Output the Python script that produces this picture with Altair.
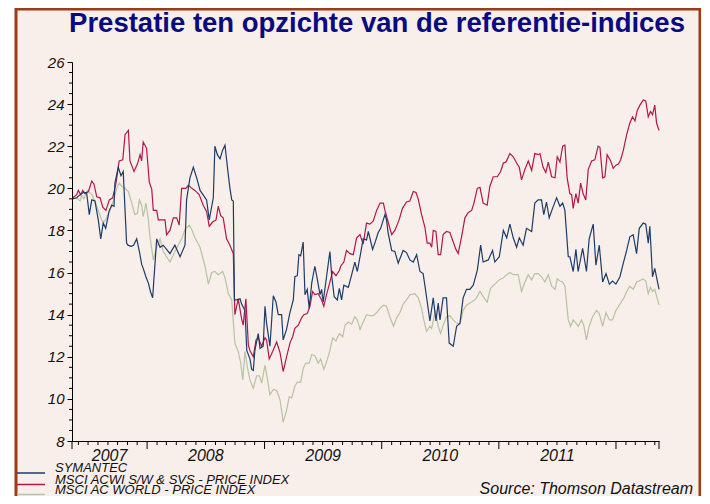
import altair as alt
import pandas as pd

# ---------------- data ----------------
START = pd.Timestamp("2007-05-12")
END = pd.Timestamp("2012-05-14")

series_names = ["SYMANTEC", "MSCI ACWI S/W & SVS - PRICE INDEX", "MSCI AC WORLD - PRICE INDEX"]
series_colors = ["#1B3C68", "#B2174B", "#B5C3A2"]

# week offsets from START, and values
sym_w = [0.3, 2.1, 3.6, 5.0, 6.5, 7.7, 8.8, 10.2, 11.7, 12.8, 13.9, 15.0, 16.5, 17.7, 18.7, 19.1, 20.6, 21.8, 22.8,
         24.3, 24.9, 26.3, 27.4, 28.8, 30.0, 31.0, 31.7, 32.9, 34.0, 34.9, 35.9, 37.7, 39.2, 40.6, 42.1, 43.6, 45.8,
         48.1, 50.3, 51.0, 52.5, 54.0, 55.5, 57.0, 58.3, 59.9, 61.1, 62.9, 63.6, 64.7, 65.9, 67.0, 68.1, 69.4, 70.3,
         71.1, 71.8, 72.3, 73.3, 74.8, 75.5, 77.0, 77.8, 79.2, 80.0, 80.7, 81.4, 82.9, 83.7, 85.1, 85.9, 86.6, 88.1,
         89.6, 90.8, 91.8, 93.3, 94.0, 95.5, 97.0, 98.5, 99.2, 100.3, 101.0, 101.8, 102.9, 103.7, 104.7, 105.6, 106.7,
         108.1, 108.9, 110.4, 111.1, 111.8, 113.3, 114.8, 115.6, 116.7, 118.1, 119.0, 120.0, 121.0, 123.0, 124.5,
         125.9, 127.0, 128.2, 129.6, 131.1, 131.9, 133.8, 134.8, 136.3, 137.4, 139.3, 140.0, 140.7, 142.3, 143.7,
         145.2, 147.4, 148.9, 150.4, 151.9, 153.4, 154.9, 156.3, 157.8, 159.3, 160.8, 162.0, 163.0, 163.8, 165.2,
         166.7, 167.9, 169.7, 171.2, 172.7, 174.1, 175.6, 177.1, 178.6, 180.4, 181.9, 183.0, 185.3, 187.2, 188.2,
         190.2, 192.0, 193.5, 194.9, 196.4, 197.9, 199.1, 200.8, 202.3, 204.6, 206.0, 207.5, 209.0, 210.0, 211.2,
         212.4, 213.9, 215.7, 217.2, 218.4, 219.4, 220.9, 221.6, 223.1, 224.3, 225.3, 227.3, 229.0, 230.2, 232.0,
         233.2, 234.7, 236.2, 237.7, 239.2, 240.6, 242.1, 243.9, 245.4, 246.9, 248.3, 249.8, 251.3, 252.5, 254.3,
         255.4, 256.5, 257.2, 258.4, 259.4, 261.3]
sym_v = [19.5, 19.55, 19.7, 19.8, 19.8, 18.75, 19.45, 19.4, 18.5, 17.6, 18.35, 18.1, 18.9, 19.2, 19.15, 20.25, 21.0,
         20.6, 20.8, 17.4, 17.3, 17.25, 17.3, 17.6, 17.0, 16.4, 16.2, 15.8, 15.5, 15.1, 14.8, 17.6, 17.2, 17.3, 17.1,
         16.9, 17.3, 16.75, 17.3, 19.45, 20.5, 21.0, 20.5, 19.9, 19.7, 19.45, 18.5, 19.55, 22.0, 21.6, 21.4, 21.8,
         22.05, 20.8, 20.0, 19.45, 19.4, 14.7, 14.7, 14.75, 14.5, 14.2, 12.3, 11.9, 11.4, 11.35, 12.3, 13.1, 12.4,
         12.5, 14.4, 13.6, 12.5, 14.9, 14.6, 14.0, 14.0, 12.8, 13.3, 14.1, 14.7, 15.8, 15.85, 16.85, 16.8, 17.45,
         14.95, 15.2, 14.3, 15.5, 16.3, 15.85, 14.95, 15.2, 14.6, 15.8, 17.0, 15.85, 14.85, 14.7, 15.25, 14.7, 15.4,
         15.3, 15.9, 16.5, 16.05, 16.75, 17.6, 17.55, 17.95, 17.1, 17.4, 17.9, 18.1, 18.75, 18.5, 17.9, 17.05, 17.0,
         16.45, 17.05, 16.95, 16.6, 16.5, 16.85, 16.05, 15.95, 14.85, 13.7, 14.8, 13.7, 14.55, 13.75, 14.8, 14.8,
         12.65, 12.5, 13.45, 13.6, 14.8, 15.2, 15.2, 15.4, 16.1, 17.3, 16.5, 16.6, 17.05, 16.5, 16.75, 18.0, 17.65,
         18.3, 17.65, 17.2, 17.65, 17.3, 18.1, 17.95, 19.3, 19.45, 19.45, 18.75, 19.35, 18.6, 19.05, 19.55, 19.15,
         19.3, 18.95, 16.75, 16.75, 16.05, 17.1, 16.05, 17.15, 16.05, 17.6, 18.3, 16.35, 17.3, 15.55, 15.95, 15.45,
         15.6, 15.45, 15.8, 16.45, 17.05, 17.7, 17.8, 16.9, 18.1, 18.35, 18.3, 17.4, 18.2, 15.8, 16.2, 15.2]

sw_w = [0.3, 2.1, 2.8, 3.9, 4.8, 5.8, 7.3, 8.8, 9.8, 11.0, 12.5, 13.7, 15.1, 16.6, 18.1, 19.6, 21.0, 22.6, 23.6, 25.1,
        25.8, 27.6, 29.1, 30.3, 31.0, 31.7, 33.2, 34.4, 35.5, 36.2, 37.7, 38.4, 39.9, 41.4, 42.1, 43.6, 45.1, 46.6,
        47.7, 48.8, 50.7, 51.8, 53.3, 54.7, 56.6, 58.4, 59.9, 61.1, 62.6, 64.1, 65.1, 66.2, 67.3, 68.8, 70.3, 71.8,
        72.5, 74.0, 75.5, 76.2, 77.4, 78.5, 79.2, 80.7, 81.9, 82.9, 84.4, 85.9, 86.6, 87.8, 89.3, 91.1, 92.6, 94.0,
        95.5, 97.0, 98.2, 99.2, 100.7, 102.2, 103.2, 104.7, 105.9, 107.1, 108.1, 109.6, 111.1, 112.1, 113.3, 114.8,
        116.0, 117.5, 119.0, 119.6, 121.0, 122.2, 123.7, 125.2, 126.7, 128.2, 129.6, 131.1, 132.6, 134.1, 135.6,
        137.1, 138.6, 139.3, 140.7, 142.3, 143.7, 145.6, 147.1, 148.9, 150.4, 151.9, 153.1, 154.1, 155.6, 157.1,
        158.1, 159.3, 160.1, 160.8, 162.0, 163.0, 164.1, 165.2, 166.7, 168.2, 169.7, 170.9, 171.9, 173.4, 174.9,
        176.4, 177.9, 178.9, 180.4, 181.6, 183.0, 184.8, 186.0, 187.5, 189.3, 190.8, 192.0, 193.2, 194.9, 196.4,
        197.9, 199.1, 200.1, 201.6, 203.1, 204.6, 206.0, 207.5, 208.3, 209.7, 210.9, 212.0, 213.5, 215.0, 216.0,
        217.2, 218.4, 219.4, 220.4, 221.6, 222.4, 223.1, 224.3, 225.3, 226.4, 227.5, 228.7, 229.8, 231.3, 232.7,
        234.2, 235.0, 236.2, 237.2, 238.2, 239.8, 240.9, 242.1, 243.2, 244.2, 245.4, 246.9, 248.3, 249.5, 250.6,
        251.6, 252.8, 254.3, 255.4, 256.5, 257.5, 258.4, 259.4, 260.2, 261.3]
sw_v = [19.55, 19.7, 19.9, 19.7, 19.9, 19.75, 19.85, 20.35, 20.2, 19.6, 19.55, 19.1, 18.95, 19.45, 19.55, 20.25, 21.3,
        21.35, 22.55, 22.75, 21.3, 20.8, 21.15, 21.6, 21.3, 22.2, 21.9, 20.3, 19.95, 18.95, 18.95, 18.5, 18.5, 18.5,
        17.8, 18.0, 18.6, 18.6, 18.25, 20.0, 20.0, 20.15, 20.0, 19.9, 19.7, 19.2, 18.9, 18.2, 18.4, 18.5, 19.15, 18.7,
        18.6, 17.6, 17.3, 16.9, 14.0, 14.75, 13.8, 13.5, 14.75, 12.55, 12.3, 12.0, 12.8, 12.9, 12.5, 12.9, 12.8, 11.9,
        12.25, 12.7, 12.2, 11.3, 12.0, 12.65, 12.95, 13.35, 13.5, 13.85, 14.0, 14.05, 14.4, 15.1, 14.95, 15.0, 14.7,
        14.4, 14.95, 15.55, 16.05, 15.85, 16.1, 16.3, 16.5, 17.05, 16.9, 16.85, 17.65, 17.8, 17.35, 18.35, 18.3, 18.45,
        18.95, 19.3, 19.3, 18.95, 18.4, 17.8, 18.0, 18.5, 19.05, 19.35, 19.4, 19.85, 19.8, 19.5, 18.75, 18.15, 17.4,
        17.4, 17.2, 18.0, 17.95, 16.85, 16.85, 17.8, 17.95, 17.9, 17.45, 17.1, 16.9, 17.7, 18.6, 18.85, 18.95, 19.3,
        20.0, 20.05, 19.3, 19.2, 20.1, 20.55, 20.55, 20.8, 21.2, 21.25, 21.65, 21.5, 21.2, 21.0, 20.4, 20.9, 21.3,
        20.85, 21.65, 21.6, 21.65, 21.0, 20.75, 21.25, 20.55, 20.5, 21.5, 21.25, 22.0, 22.05, 20.5, 19.75, 19.7,
        19.05, 19.75, 19.3, 20.25, 19.75, 19.45, 20.9, 21.3, 21.35, 22.0, 21.95, 20.5, 20.55, 21.6, 21.3, 20.95,
        21.1, 21.15, 21.35, 21.8, 22.55, 23.1, 23.4, 23.2, 23.7, 23.95, 24.2, 24.15, 23.4, 23.65, 23.5, 23.95, 23.1,
        22.75]

wld_w = [0.3, 2.1, 3.6, 4.3, 5.3, 6.8, 8.8, 10.2, 11.7, 13.2, 14.2, 15.4, 16.9, 18.4, 19.9, 21.0, 22.1, 23.6, 25.1,
         26.6, 28.0, 29.1, 30.0, 31.0, 31.7, 32.9, 34.0, 34.7, 36.2, 37.7, 39.2, 40.6, 42.1, 43.6, 45.8, 47.3, 48.8,
         50.3, 52.2, 53.3, 54.7, 57.0, 59.2, 60.7, 62.2, 63.6, 65.1, 67.1, 68.1, 69.6, 71.1, 72.5, 74.0, 75.1, 76.0,
         77.0, 78.0, 79.2, 80.7, 82.2, 83.4, 84.4, 85.9, 86.9, 88.1, 89.6, 91.1, 92.6, 93.3, 94.0, 95.5, 96.7, 97.8,
         99.2, 100.3, 101.8, 102.9, 104.1, 105.6, 106.7, 108.1, 109.6, 110.7, 112.1, 113.6, 114.8, 116.0, 117.5,
         119.0, 120.5, 121.5, 123.0, 124.5, 125.9, 127.0, 128.2, 129.6, 131.1, 132.6, 134.1, 135.6, 137.1, 138.6,
         140.0, 141.6, 143.1, 144.5, 146.0, 147.4, 148.9, 150.4, 152.6, 154.1, 155.6, 156.6, 157.8, 159.3, 160.1,
         161.7, 163.0, 164.1, 165.2, 166.7, 168.2, 169.7, 171.2, 172.7, 174.1, 175.6, 177.9, 179.8, 181.6, 183.4,
         184.8, 186.3, 188.2, 190.2, 192.0, 193.5, 194.9, 196.4, 198.6, 200.1, 201.6, 203.1, 204.6, 206.0, 207.5,
         209.0, 210.5, 212.0, 213.5, 215.0, 216.0, 217.2, 218.4, 219.4, 220.9, 221.9, 223.1, 224.3, 225.3, 226.8,
         227.8, 229.0, 230.2, 231.7, 233.5, 234.7, 236.2, 237.7, 239.2, 240.6, 242.1, 243.9, 245.7, 246.9, 248.3,
         249.8, 251.3, 252.5, 254.0, 255.4, 256.5, 257.5, 258.4, 259.4, 261.3]
wld_v = [19.5, 19.55, 19.4, 19.65, 19.5, 19.9, 19.7, 19.4, 18.95, 18.5, 18.4, 18.6, 19.0, 19.4, 20.0, 20.25, 20.1,
         20.0, 19.85, 19.3, 18.75, 18.8, 19.45, 19.2, 18.65, 19.3, 18.5, 17.7, 16.6, 17.2, 17.6, 17.0, 16.75, 16.5,
         17.0, 17.3, 17.6, 18.05, 18.25, 18.05, 17.65, 17.2, 16.3, 15.45, 16.0, 16.05, 15.9, 16.05, 15.75, 15.0, 14.7,
         12.65, 12.25, 11.7, 10.9, 12.25, 11.55, 10.9, 10.5, 11.1, 11.1, 10.75, 11.6, 11.0, 10.2, 10.45, 10.4, 9.95,
         9.45, 8.9, 9.45, 10.1, 10.05, 10.6, 10.8, 10.8, 11.45, 11.7, 11.7, 12.1, 12.05, 11.7, 11.9, 11.4, 11.85, 12.3,
         12.9, 12.75, 13.1, 12.95, 13.5, 13.65, 13.55, 13.9, 13.75, 13.3, 13.65, 14.0, 13.95, 13.95, 14.1, 14.3, 14.45,
         14.4, 13.85, 13.45, 13.85, 14.1, 14.5, 14.7, 14.95, 15.0, 14.8, 14.3, 13.75, 13.2, 13.45, 13.35, 14.2, 13.45,
         13.1, 13.5, 13.9, 13.95, 13.75, 13.6, 13.55, 14.2, 14.45, 14.6, 14.75, 15.1, 14.8, 14.6, 15.25, 15.45, 15.65,
         15.75, 15.9, 16.0, 15.9, 15.9, 15.1, 15.55, 15.9, 15.65, 15.95, 15.95, 15.8, 15.55, 15.9, 15.35, 15.2, 15.7,
         15.6, 15.55, 15.35, 13.75, 13.45, 13.75, 13.6, 13.45, 13.75, 13.5, 12.8, 13.45, 13.9, 14.2, 14.05, 13.45,
         14.1, 13.75, 13.75, 14.2, 14.5, 14.8, 15.1, 15.35, 15.2, 15.55, 15.6, 15.7, 15.6, 15.0, 15.3, 15.1, 15.2,
         14.45]

y_major = [8, 10, 12, 14, 16, 18, 20, 22, 24, 26]
year_labels = ["2007", "2008", "2009", "2010", "2011"]

TITLE = "Prestatie ten opzichte van de referentie-indices"
SOURCE = "Source: Thomson Datastream"

# ---------------- build tables ----------------
def to_frame(ws, vs, name):
    dates = START + pd.to_timedelta([w * 7 for w in ws], unit="D")
    return pd.DataFrame({"date": dates, "value": vs, "series": name})

lines_df = pd.concat([
    to_frame(wld_w, wld_v, series_names[2]),
    to_frame(sw_w, sw_v, series_names[1]),
    to_frame(sym_w, sym_v, series_names[0]),
], ignore_index=True)

year_starts = [pd.Timestamp(f"{y}-01-01") for y in range(2008, 2013)]
major_ticks = pd.DataFrame({"date": [START] + year_starts + [END]})
month_ticks = pd.DataFrame({"date": [d for d in pd.date_range("2007-06-01", "2012-05-01", freq="MS") if d.month != 1]})

lab_dates = []
for lab in year_labels:
    y = int(lab)
    a = max(pd.Timestamp(f"{y}-01-01"), START)
    b = min(pd.Timestamp(f"{y + 1}-01-01"), END)
    lab_dates.append(a + (b - a) / 2)
year_df = pd.DataFrame({"date": lab_dates, "label": year_labels})

minor_y = pd.DataFrame({"value": [8 + 0.5 * i for i in range(37) if i % 4 != 0]})
one = pd.DataFrame({"k": [0]})

# ---------------- layout constants ----------------
W, H = 587, 379
BG = "#F8EFEA"
BORDER = "#9E3A14"
FONT = "Liberation Sans"

xscale = alt.Scale(domain=[alt.DateTime(year=2007, month=5, date=12), alt.DateTime(year=2012, month=5, date=14)])
yscale = alt.Scale(domain=[8, 26], nice=False, zero=False)
x_axis = alt.Axis(title=None, labels=False, ticks=False, grid=False, domainColor="black", domainWidth=1, zindex=1)
y_axis = alt.Axis(title=None, values=y_major, tickSize=5, tickColor="black", tickWidth=1, domainColor="black",
                  domainWidth=1, grid=False, labelFont=FONT, labelFontStyle="italic", labelFontSize=15,
                  labelColor="#111111", labelPadding=3, zindex=1)

X = alt.X("date:T", scale=xscale, axis=x_axis)
Y = alt.Y("value:Q", scale=yscale, axis=y_axis)

frame = alt.Chart(one).mark_rect(fill=BG, stroke=BORDER, strokeWidth=3).encode(
    x=alt.value(-56), x2=alt.value(628), y=alt.value(-53), y2=alt.value(470))

lines = alt.Chart(lines_df).mark_line(strokeWidth=1.2).encode(
    x=X, y=Y,
    color=alt.Color("series:N", scale=alt.Scale(domain=series_names, range=series_colors), legend=None),
    detail="series:N",
)

minor_y_ticks = alt.Chart(minor_y).mark_rule(color="black", strokeWidth=1).encode(
    y=Y, x=alt.value(-3), x2=alt.value(0))

month_rules = alt.Chart(month_ticks).mark_rule(color="black", strokeWidth=1).encode(
    x=X, y=alt.value(H), y2=alt.value(H + 4))
major_rules = alt.Chart(major_ticks).mark_rule(color="black", strokeWidth=1).encode(
    x=X, y=alt.value(H), y2=alt.value(H + 8))

year_text = alt.Chart(year_df).mark_text(font=FONT, fontStyle="italic", fontSize=16, color="#111111",
                                         align="center", baseline="alphabetic").encode(
    x=X, y=alt.value(399), text="label:N")

title = alt.Chart(one).mark_text(text=TITLE, font=FONT, fontWeight="bold", fontSize=27.5, color="#0A0A80",
                                 align="center", baseline="alphabetic").encode(
    x=alt.value(305), y=alt.value(-30.5))

source = alt.Chart(one).mark_text(text=SOURCE, font=FONT, fontStyle="italic", fontSize=16, color="#111111",
                                  align="right", baseline="alphabetic").encode(
    x=alt.value(621), y=alt.value(432))

legend_layers = []
text_base = [410, 421.5, 432]
line_y = [411, 422.5, 432.5]
for i, (name, col) in enumerate(zip(series_names, series_colors)):
    legend_layers.append(
        alt.Chart(one).mark_rule(color=col, strokeWidth=1.5).encode(
            x=alt.value(-55), x2=alt.value(-27), y=alt.value(line_y[i])))
    legend_layers.append(
        alt.Chart(one).mark_text(text=name, font=FONT, fontStyle="italic", fontSize=13, color="#111111",
                                 align="left", baseline="alphabetic").encode(
            x=alt.value(-17), y=alt.value(text_base[i])))

chart = alt.layer(
    frame, lines, minor_y_ticks, month_rules, major_rules, year_text, title, source, *legend_layers
).properties(
    width=W, height=H,
    padding={"left": 64, "top": 54, "right": 42, "bottom": 55},
    autosize=alt.AutoSizeParams(type="none"),
).configure_view(stroke=None).configure(background="white")

chart.save("out.html", embed_options={"renderer": "svg", "actions": False})
